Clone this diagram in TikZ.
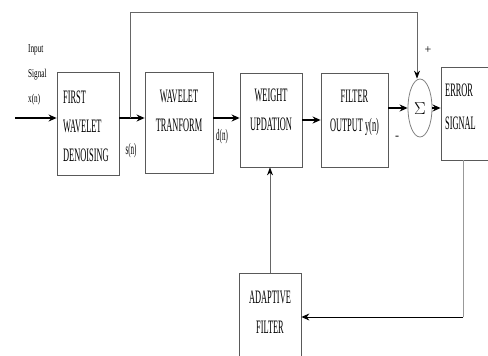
\documentclass[tikz,border=0pt]{standalone}
\usepackage{fontspec}
\setmainfont{Liberation Serif}[FakeStretch=0.44]
\newfontfamily\narrowfont{Liberation Serif}[FakeStretch=0.6]
\newfontfamily\plainfont{Liberation Serif}
\usetikzlibrary{arrows.meta,shapes.geometric}
\tikzset{
  blockbox/.style={draw=black!65, line width=0.8pt, inner sep=0pt},
  blocktext/.style={font=\fontsize{19}{29}\selectfont, inner sep=0pt},
  sigtext/.style={font=\fontsize{16}{16}\selectfont, inner sep=0pt},
  signmark/.style={inner sep=0pt, font=\plainfont\fontsize{12}{12}\selectfont},
  flow/.style={black, line width=1.2pt, -{Stealth[length=8pt,width=7pt]}},
  feed/.style={black!60, line width=0.9pt},
}
\begin{document}
\begin{tikzpicture}[x=1pt, y=-1pt]
    \useasboundingbox (0,0) rectangle (488,356);
    % Bloques del diagrama, posiciones en pixeles del original.
    \node[blockbox, minimum width=62pt, minimum height=103pt] (fwd) at (88,123.5) {};
    \node[blockbox, minimum width=68pt, minimum height=101pt] (wt) at (179,122.5) {};
    \node[blockbox, minimum width=62pt, minimum height=94pt] (wu) at (271,120) {};
    \node[blockbox, minimum width=67pt, minimum height=94pt] (fo) at (354.5,120) {};
    \node[blockbox, draw=black!50, ellipse, minimum width=24pt, minimum height=58pt] (sum) at (420,108) {};
    \node[blockbox, minimum width=60pt, minimum height=93pt] (err) at (471,113.5) {};
    \node[blockbox, minimum width=62pt, minimum height=100pt] (af) at (270,323) {};
    % Textos dentro de los bloques.
    \node[blocktext, align=left, anchor=west] (fwdtxt) at (63,126) {FIRST\\WAVELET\\DENOISING};
    \node[blocktext, align=center] (wttxt) at (179,111) {WAVELET\\TRANFORM};
    \node[blocktext, align=center] (wutxt) at (271,110) {WEIGHT\\UPDATION};
    \node[blocktext, align=center] (fotxt) at (354.5,113) {FILTER\\OUTPUT y(n)};
    \node[blocktext, font=\fontsize{19}{33}\selectfont, align=left, anchor=west] (errtxt) at (445,107) {ERROR\\SIGNAL};
    \node[blocktext, font=\fontsize{19}{30}\selectfont, align=center] (aftxt) at (270,312) {ADAPTIVE\\FILTER};
    \node[inner sep=0pt, font=\fontsize{16}{16}\selectfont] (sumtxt) at (420,109) {$\Sigma$};
    % Etiquetas de las senales.
    \node[inner sep=0pt, align=left, anchor=west, font=\narrowfont\fontsize{12}{25}\selectfont] (intxt) at (28,75) {Input\\Signal\\x(n)};
    \node[sigtext] (stxt) at (131,151) {s(n)};
    \node[sigtext] (dtxt) at (222,137) {d(n)};
    \node[signmark] (plus) at (428,50) {+};
    \node[signmark] (minus) at (397,138) {-};
    % Conexiones.
    \coordinate (src) at (15,118);
    \coordinate (tap) at (130,118);
    \coordinate (topR) at (417,12);
    \coordinate (fbk) at (463,317);
    \draw[flow] (src) -- (src -| fwd.west);
    \draw[flow] (fwd.east |- src) -- (wt.west |- src);
    \draw[flow] (wt.east |- src) -- (wu.west |- src);
    \draw[flow] (wu) -- (fo);
    \draw[flow] (fo.east |- sum) -- (sum.west);
    \draw[flow] (sum.east) -- (sum -| err.west);
    \draw[feed] (tap) |- (topR);
    \draw[feed, -{Stealth[length=8pt,width=6pt,black]}] (topR) -- (topR |- sum.north);
    \draw[feed, black!40] (err.south -| fbk) -- (fbk);
    \draw[flow, line width=1pt] (fbk) -- (fbk -| af.east);
    \draw[feed, -{Stealth[length=8pt,width=6pt,black]}] (af.north) -- (af.north |- wu.south);
\end{tikzpicture}
\end{document}
